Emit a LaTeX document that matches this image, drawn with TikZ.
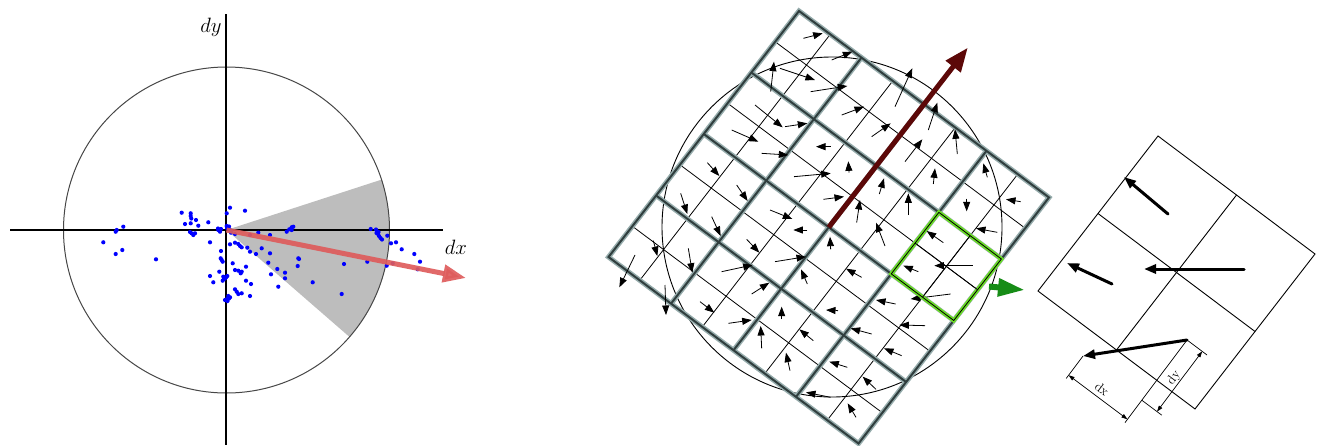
\documentclass[tikz,border=0pt]{standalone}
\usetikzlibrary{arrows.meta}
\definecolor{sectorgray}{RGB}{189,189,189}
\definecolor{redarrow}{RGB}{222,92,92}
\definecolor{darkred}{RGB}{92,8,8}
\definecolor{halo}{RGB}{150,172,172}
\definecolor{core}{RGB}{48,62,62}
\definecolor{lime}{RGB}{105,222,35}
\definecolor{dgreen}{RGB}{22,140,22}
\definecolor{circgray}{RGB}{70,70,70}
\definecolor{dotblue}{RGB}{0,0,255}
\begin{document}
\begin{tikzpicture}[x=1pt,y=-1pt,
  axisline/.style={line width=1.4pt,black},
  roundline/.style={line width=1pt,circgray},
  dot/.style={fill=dotblue},
  thinline/.style={line width=0.8pt,black},
  thickhalo/.style={line width=5pt,halo},
  thickcore/.style={line width=2pt,core},
  smallarrow/.style={line width=0.8pt,black,-{Triangle[length=9.5pt,width=7pt]}},
  bigarrow/.style={line width=3pt,black,line cap=round,-{Triangle[length=12pt,width=9pt]}},
  dimline/.style={line width=0.7pt,black},
  dimarrow/.style={line width=0.7pt,black,{Triangle[length=6pt,width=4pt]}-{Triangle[length=6pt,width=4pt]}},
  lbl/.style={inner sep=0pt}
]
\useasboundingbox (0,0) rectangle (1323,445);

% ---------------- Left panel ----------------
\coordinate (O) at (226.5,230);
\fill[sectorgray] (O) -- ++(-18:163) arc[start angle=-18,end angle=41,radius=163] -- cycle;
\draw[roundline] (O) circle[radius=163pt];
\draw[axisline] (10,230) -- (443,230);
\draw[axisline] (226,14) -- (226,445);
\node[lbl] (ldy) at (211,27) {\fontsize{21}{21}\selectfont $dy$};
\node[lbl] (ldx) at (456,247) {\fontsize{21}{21}\selectfont $dx$};

\foreach \p in {
 (103.3,242.3),(115.7,231.7),(116.7,230),(123.3,226.7),(115.7,254),(122.3,250),(156,259.3),
 (181.7,212.7),(190.7,213.3),(190.7,216),(191.3,218.5),(196,220),(185,224),(190.7,223.3),(198.3,225.7),(208.3,222.3),
 (230,207.7),(226.7,213.3),(245,210.7),
 (191.7,233.3),(193.3,235),(195,233.3),(190,232),
 (218.3,230),(220,231.7),(218,228.5),(221,229),
 (226.7,226),(228.3,228.3),(230,230),(227,228),(229,226.5),(231,231.5),
 (210,242.3),(231,232.7),(235,234),(250,235),(258.3,232.7),(270,235),
 (230,244.3),(235,242.7),(238.3,244),(240,246),(241.7,247.3),(247.3,247.7),(261.7,248.3),
 (250,251.7),(256,254),(270,253.3),(221,251),
 (220.7,258.3),(221.7,260),(222.7,261.7),(232.7,263.3),(246,266.7),(268.3,262.7),(277.3,269),(285,272.7),
 (235,270),(238.3,270.7),(241.7,271.7),(219.3,271.7),(210,276),
 (223.3,276.7),(225,278.3),(227.3,276),(222.7,280.7),(224,279),(226,277.5),
 (213.3,282.3),(240.7,273.3),(271,274.3),(285,278.3),(246,280.7),(251,284),(278.3,286.7),
 (235,289.3),(236.7,291.7),(238.3,294),(241.7,293.3),(250,296),
 (228.3,296),(230,297.3),(226.7,299.3),(225,300),(227.5,301),(229,298.5),
 (298.3,258.3),(297.7,266),
 (286.7,231.7),(289.3,229.3),(291.7,227.3),(293.3,226.7),(291.7,230),
 (299,259),(312.7,282.3),(344,264),(341.7,294),(367.3,261.7),
 (370.7,229),(376,229.5),(377,231.5),(378,234),(379,236),(380.5,238),(382,239.5),(378.5,232),(376.5,233),
 (387.3,235.7),(391,243.3),(396,242.3),(401.7,249.3),(386.7,265.7),(392.7,263.3),
 (414.3,254),(420,261.7),(417.7,269.3)}
 \fill[dot] \p circle[radius=2.1pt];

\draw[line width=5pt,redarrow,opacity=0.92,-{Triangle[length=23pt,width=17pt]}] (O) -- (466,278);

% ---------------- Middle panel ----------------
\coordinate (MC) at (832,227);
\draw[line width=0.9pt,black] (MC) circle[radius=170pt];

\begin{scope}[shift={(799pt,-11pt)},x={(31.25pt,-23.31pt)},y={(-23.81pt,-30.75pt)}]
  \foreach \i in {1,3,5,7} {
    \draw[thinline] (\i,0) -- (\i,8);
    \draw[thinline] (0,\i) -- (8,\i);
  }
  \foreach \i in {2,4,6} {
    \draw[thickhalo] (\i,0) -- (\i,8);
    \draw[thickhalo] (0,\i) -- (8,\i);
  }
  \draw[thickhalo] (0,0) -- (8,0) -- (8,8) -- (0,8) -- cycle;
  \foreach \i in {2,4,6} {
    \draw[thickcore] (\i,0) -- (\i,8);
    \draw[thickcore] (0,\i) -- (8,\i);
  }
  \draw[thickcore] (0,0) -- (8,0) -- (8,8) -- (0,8) -- cycle;
\end{scope}

% small gradient arrows (coordinates in 1/3 px, offset 600)
\begin{scope}[shift={(600pt,0pt)},x=0.33333pt,y=-0.33333pt]
\foreach \a/\b/\c/\d in {
 610/115/668/100, 695/180/757/155, 512/275/522/185, 540/205/645/240, 632/275/742/258,
 885/320/937/205, 465/315/548/382, 555/380/622/370, 725/345/792/320, 815/410/872/370,
 985/390/1012/308, 395/390/475/425, 485/460/565/465, 692/440/648/440, 915/485/967/418,
 1072/462/1065/388, 582/530/692/520, 747/518/745/484, 322/488/358/528, 410/555/443/603,
 1000/552/1005/505, 1162/532/1150/490, 242/580/262/642, 335/650/362/708, 510/630/577/657,
 670/598/732/590, 838/582/852/535, 925/645/925/580, 770/668/780/600, 1100/596/1100/634,
 1262/605/1218/598, 622/690/580/690, 855/738/828/668, 692/748/690/710, 1192/697/1128/685,
 160/722/172/768, 105/765/58/862, 265/745/277/818, 440/718/478/758, 365/815/458/795,
 525/785/618/770, 1030/728/980/693, 1118/797/1003/797, 955/815/910/797, 785/832/738/806,
 622/852/603/808, 455/882/508/848, 195/855/198/945, 300/905/343/938, 385/970/455/960,
 485/1045/482/978, 545/957/545/920, 640/1022/598/988, 570/1112/558/1058, 714/932/678/930,
 815/1002/752/985, 887/912/828/900, 1052/882/932/897, 975/977/898/975, 905/1067/852/1045,
 742/1102/688/1085, 828/1168/788/1130, 692/1192/618/1177, 768/1252/743/1210}
 \draw[smallarrow] (\a,\b) -- (\c,\d);
\end{scope}

\begin{scope}[shift={(799pt,-11pt)},x={(31.25pt,-23.31pt)},y={(-23.81pt,-30.75pt)}]
  \coordinate (gc) at (4,4);
  \coordinate (gt) at (4,-1.84);
  \draw[line width=5pt,darkred,-{Triangle[length=24pt,width=18pt]}] (gc) -- (gt);
  \draw[line width=4pt,lime,line join=miter] (6,2) -- (8,2) -- (8,4) -- (6,4) -- cycle;
  \draw[line width=0.8pt,black] (6,2) -- (8,2) -- (8,4) -- (6,4) -- cycle;
  \draw[thinline] (7,2) -- (7,4);
  \draw[thinline] (6,3) -- (8,3);
\end{scope}
\coordinate (gs) at (989,286.5);
\coordinate (ge) at (1025,290);
\draw[line width=6pt,dgreen,-{Triangle[length=27pt,width=17pt]}] (gs) -- (ge);

% ---------------- Right panel ----------------
\begin{scope}[shift={(1158pt,-136pt)},x={(78.5pt,-59pt)},y={(-60pt,-77.5pt)}]
  \draw[line width=0.9pt,black] (0,0) -- (2,0) -- (2,2) -- (0,2) -- cycle;
  \draw[line width=0.9pt,black] (1,0) -- (1,2);
  \draw[line width=0.9pt,black] (0,1) -- (2,1);
\end{scope}

\coordinate (A1) at (1168,214); \coordinate (A2) at (1124,177);
\coordinate (B1) at (1112,284); \coordinate (B2) at (1067,263);
\coordinate (C1) at (1244,269); \coordinate (C2) at (1144,269);
\coordinate (P)  at (1187,340); \coordinate (Q)  at (1083,356);
\draw[bigarrow] (A1) -- (A2);
\draw[bigarrow] (B1) -- (B2);
\draw[bigarrow] (C1) -- (C2);
\draw[bigarrow] (P) -- (Q);

\coordinate (e1) at (1066.2,378.4);
\coordinate (e2) at (1125,422.6);
\coordinate (d1) at (1068.6,375.2);
\coordinate (d2) at (1127.4,419.3);
\coordinate (e3) at (1207,355);
\coordinate (f1) at (1141.8,400.2);
\coordinate (f2) at (1161.8,415.2);
\coordinate (h1) at (1202.2,351.4);
\coordinate (h2) at (1157,411.6);
\draw[dimline] (Q) -- (e1);
\draw[dimline] (P) -- (e2);
\draw[dimline] (P) -- (e3);
\draw[dimline] (f1) -- (f2);
\draw[dimarrow] (d1) -- (d2);
\draw[dimarrow] (h1) -- (h2);
\node[lbl,rotate=-37] (rdx) at (1102,389) {\fontsize{13}{13}\selectfont dx};
\node[lbl,rotate=53] (rdy) at (1174,378) {\fontsize{13}{13}\selectfont dy};
\end{tikzpicture}
\end{document}
